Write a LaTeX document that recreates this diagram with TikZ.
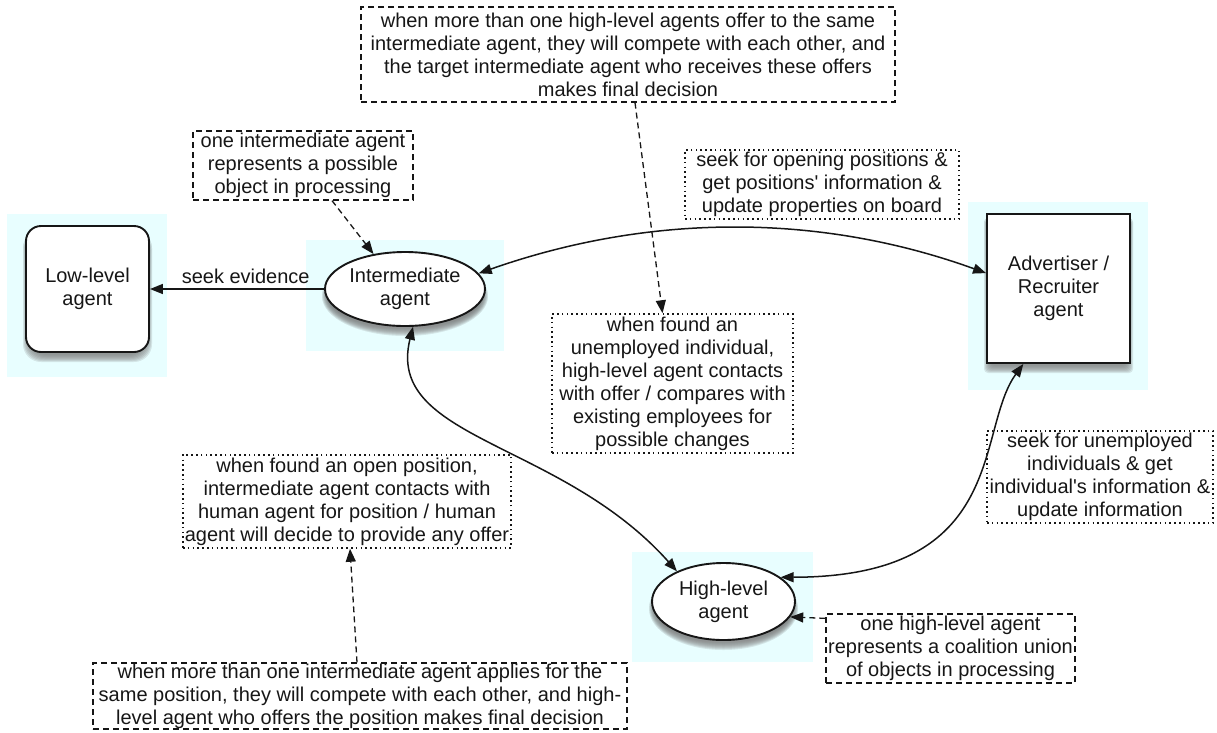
\documentclass[tikz,border=0pt]{standalone}
\usepackage{fontspec}
\setmainfont{Liberation Sans}
\usetikzlibrary{arrows.meta,shapes.geometric}

\definecolor{pale}{RGB}{232,254,255}
\definecolor{ink}{RGB}{22,22,22}
\definecolor{shade}{RGB}{40,44,100}

% soft drop shadow under an oval: centre x, centre y, x radius, y radius
\newcommand{\ovalshade}[4]{%
  \foreach \s in {0,...,7}{%
    \fill[shade,opacity=0.1] (#1,#2+7) ellipse [x radius={#3+3-\s}, y radius={#4+3-\s}];}}
% soft drop shadow under a box: x1, y1, x2, y2, corner radius
\newcommand{\boxshade}[5]{%
  \foreach \s in {0,...,7}{%
    \fill[shade,opacity=0.1,rounded corners={#5+3pt}]
      (#1-3+\s,#2+4+\s) rectangle (#3+3-\s,#4+10-\s);}}

\tikzset{
  every node/.style={font=\fontsize{20}{23}\selectfont, text=ink},
  agentbox/.style={draw=ink, line width=1.9pt, fill=white, align=center, inner sep=0pt},
  agentoval/.style={ellipse, draw=ink, line width=1.9pt, fill=white, align=center, inner sep=0pt},
  dashnote/.style={draw=ink, line width=1.3pt, dash pattern=on 6pt off 4pt, align=center, inner sep=0pt},
  dotnote/.style={draw=ink, line width=1.5pt, dash pattern=on 1.6pt off 3.2pt, align=center, inner sep=0pt},
  link/.style={draw=ink, line width=1.5pt},
  dashlink/.style={draw=ink, line width=1.3pt, dash pattern=on 6pt off 4pt},
  onehead/.style={-{Triangle[length=13pt,width=10pt]}},
  twoheads/.style={{Triangle[length=13pt,width=10pt]}-{Triangle[length=13pt,width=10pt]}},
}

\begin{document}
\begin{tikzpicture}[x=1pt,y=-1pt]
\useasboundingbox (0,0) rectangle (1217,732);

% pale highlight regions behind the agents
\fill[pale] (7,214) rectangle (167,377);
\fill[pale] (306,240) rectangle (504,351);
\fill[pale] (968,202) rectangle (1148,390);
\fill[pale] (632,552) rectangle (813,662);

% shadows
\boxshade{26}{226}{149}{352}{15pt}
\ovalshade{405}{289}{80}{37}
\boxshade{987}{214}{1130}{363}{1pt}
\ovalshade{723.5}{601.5}{71.5}{38.5}

% agents
\node[agentbox, rounded corners=15pt, minimum width=123, minimum height=126] (low) at (87.5,289) {Low-level\\agent};
\node[agentoval, minimum width=160, minimum height=74] (inter) at (405,289) {Intermediate\\agent};
\node[agentbox, minimum width=143, minimum height=149] (adv) at (1058.5,288.5) {Advertiser /\\Recruiter\\agent};
\node[agentoval, minimum width=143, minimum height=77] (high) at (723.5,601.5) {High-level\\agent};

% dashed notes
\node[dashnote, minimum width=534, minimum height=95] (offers) at (628,54.5)
  {when more than one high-level agents offer to the same\\
   intermediate agent, they will compete with each other, and\\
   the target intermediate agent who receives these offers\\
   makes final decision};
\node[dashnote, minimum width=220, minimum height=69] (objnote) at (303,165.5)
  {one intermediate agent\\represents a possible\\object in processing};
\node[dashnote, minimum width=534, minimum height=66] (applies) at (360,696)
  {when more than one intermediate agent applies for the\\
   same position, they will compete with each other, and high-\\
   level agent who offers the position makes final decision};
\node[dashnote, minimum width=249, minimum height=69] (coal) at (950.5,648.5)
  {one high-level agent\\represents a coalition union\\of objects in processing};

% dotted notes
\node[dotnote, minimum width=328, minimum height=93] (openpos) at (347,501.5)
  {when found an open position,\\intermediate agent contacts with\\
   human agent for position / human\\agent will decide to provide any offer};
\node[dotnote, minimum width=241, minimum height=139] (unemp) at (672.5,383.5)
  {when found an\\unemployed individual,\\high-level agent contacts\\
   with offer / compares with\\existing employees for\\possible changes};
\node[dotnote, minimum width=274, minimum height=69] (seekopen) at (822,184.5)
  {seek for opening positions \&\\get positions\textquotesingle{} information \&\\update properties on board};
\node[dotnote, minimum width=226, minimum height=92] (seekind) at (1100,477)
  {seek for unemployed\\individuals \& get\\individual\textquotesingle s information \&\\update information};

% connectors between agents
\draw[link, onehead] (inter.west) -- node[pos=0.45, above=1pt] (seeklbl) {seek evidence} (low.east);
\draw[link, twoheads] (inter.12) .. controls (650,213) and (820,213) .. (adv.168);
\draw[link, twoheads] (inter.-78) .. controls (385,440) and (560,440) .. (high.147);
\draw[link, twoheads] (high.23) .. controls (1010,577) and (975,430) .. (adv.-115);

% note pointers
\draw[dashlink, onehead] ([xshift=29pt]objnote.south) -- (inter.132);
\draw[dashlink, onehead] ([xshift=7pt]offers.south) -- ([xshift=-10pt]unemp.north);
\draw[dashlink, onehead] ([xshift=-3pt]applies.north) -- ([xshift=3pt]openpos.south);
\draw[dashlink, onehead] ([yshift=-5pt]coal.north west) -- (high.-13);
\end{tikzpicture}
\end{document}
